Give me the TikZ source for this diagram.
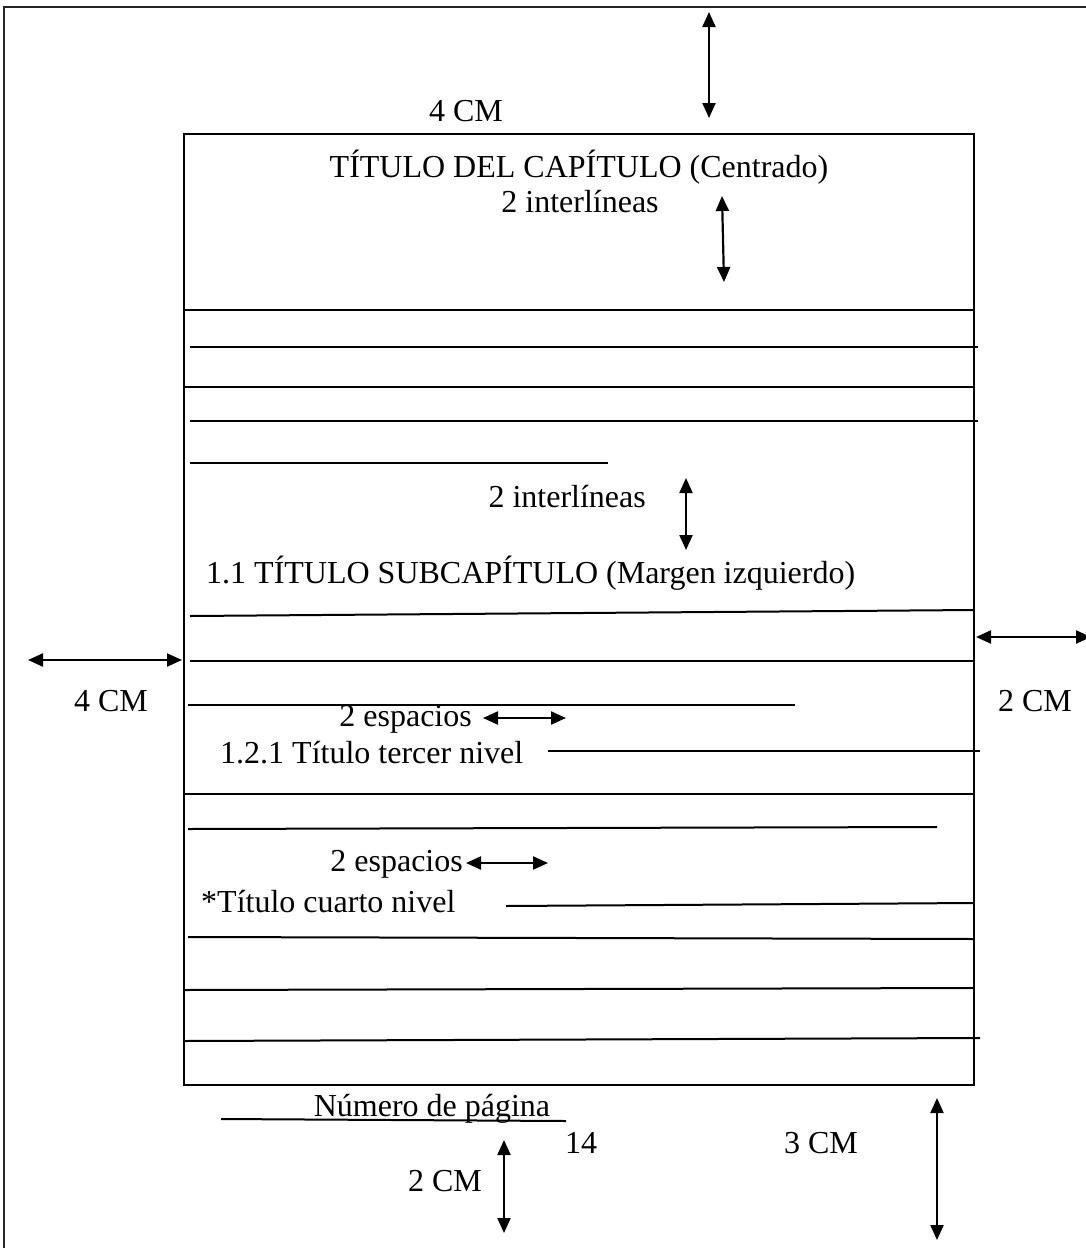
\documentclass[tikz,border=0pt]{standalone}
\usepackage{fontspec}
\setmainfont{Liberation Serif}
\usetikzlibrary{arrows.meta}

\begin{document}
\begin{tikzpicture}[
    x=1pt, y=-1pt,
    >={Triangle[length=15pt, width=13pt]},
    lbl/.style={font=\fontsize{32}{37}\selectfont, inner sep=0pt},
    rule/.style={line width=2pt},
    dim/.style={<->, line width=2.2pt},
    frame/.style={line width=2.2pt, draw=black!85}
  ]
  \useasboundingbox (0,0) rectangle (1085,1248);

  % --- hoja y caja de texto ---
  \draw[frame] (4,1250) -- (4,7) -- (1090,7);
  \draw[line width=1.8pt] (184,134) rectangle (974,1085);

  % --- margen superior ---
  \coordinate (supA) at (709,12);
  \coordinate (supB) at (709,118);
  \draw[dim] (supA) -- (supB);
  \node[lbl, anchor=base] (sup) at (466,121) {4 CM};

  % --- titulo del capitulo ---
  \node[lbl, anchor=base] (tit) at (579,177) {TÍTULO DEL CAPÍTULO (Centrado)};
  \node[lbl, anchor=base] (inter1) at (580,212) {2 interlíneas};
  \coordinate (int1A) at (722,196);
  \coordinate (int1B) at (724,282);
  \draw[dim] (int1A) -- (int1B);

  % --- renglones del parrafo ---
  \draw[rule] (184,310) -- (974,310);
  \draw[rule] (190,347) -- (978,347);
  \draw[rule] (184,387) -- (974,387);
  \draw[rule] (190,421) -- (978,421);
  \draw[rule] (190,463) -- (608,463);

  % --- subcapitulo ---
  \node[lbl, anchor=base east] (inter2) at (646,507) {2 interlíneas};
  \coordinate (int2A) at (686,478);
  \coordinate (int2B) at (686,550);
  \draw[dim] (int2A) -- (int2B);
  \node[lbl, anchor=base west] (sub) at (206,583) {1.1 TÍTULO SUBCAPÍTULO (Margen izquierdo)};
  \draw[rule] (190,616) -- (974,610);
  \draw[rule] (190,661) -- (974,661);
  \draw[rule] (188,705) -- (795,705);

  % --- margenes laterales ---
  \coordinate (izqA) at (28,660);
  \coordinate (izqB) at (182,660);
  \draw[dim] (izqA) -- (izqB);
  \node[lbl, anchor=base] (izq) at (111,711) {4 CM};
  \coordinate (derA) at (976,637);
  \coordinate (derB) at (1091,637);
  \draw[dim] (derA) -- (derB);
  \node[lbl, anchor=base] (der) at (1035,711) {2 CM};

  % --- tercer nivel ---
  \node[lbl, anchor=base east] (esp1) at (472,726) {2 espacios};
  \coordinate (esp1A) at (483,718);
  \coordinate (esp1B) at (566,718);
  \draw[dim] (esp1A) -- (esp1B);
  \node[lbl, anchor=base west] (ter) at (220,763) {1.2.1 Título tercer nivel};
  \draw[rule] (548,751) -- (980,751);
  \draw[rule] (184,794) -- (974,794);
  \draw[rule] (188,829) -- (937,827);

  % --- cuarto nivel ---
  \node[lbl, anchor=base east] (esp2) at (463,871) {2 espacios};
  \coordinate (esp2A) at (466,863);
  \coordinate (esp2B) at (548,863);
  \draw[dim] (esp2A) -- (esp2B);
  \node[lbl, anchor=base west] (cua) at (201,912) {*Título cuarto nivel};
  \draw[rule] (506,906) -- (974,903);
  \draw[rule] (188,937) -- (974,939);
  \draw[rule] (184,990) -- (974,988);
  \draw[rule] (184,1041) -- (980,1038);

  % --- pie de pagina ---
  \node[lbl, anchor=base] (num) at (432,1116) {Número de página};
  \draw[rule] (221,1119) -- (566,1121);
  \node[lbl, anchor=base] (pag) at (581,1153) {14};
  \node[lbl, anchor=base] (inf) at (821,1153) {3 CM};
  \coordinate (infA) at (937,1098);
  \coordinate (infB) at (937,1240);
  \draw[dim] (infA) -- (infB);
  \node[lbl, anchor=base] (pie) at (445,1191) {2 CM};
  \coordinate (pieA) at (504,1140);
  \coordinate (pieB) at (504,1233);
  \draw[dim] (pieA) -- (pieB);
\end{tikzpicture}
\end{document}
